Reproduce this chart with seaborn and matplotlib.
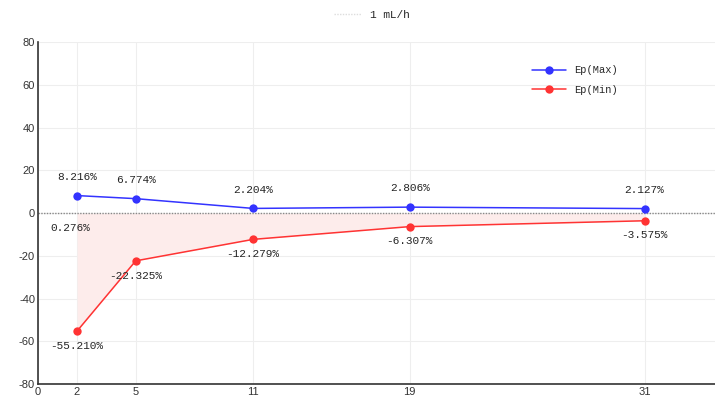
import matplotlib
matplotlib.use('Agg')
import matplotlib.pyplot as plt
from matplotlib.lines import Line2D
from matplotlib.ticker import MultipleLocator
import numpy as np
import pandas as pd
import seaborn as sns

x_vals = [2, 5, 11, 19, 31]
ep_max = [8.216, 6.774, 2.204, 2.806, 2.127]
ep_min = [-55.210, -22.325, -12.279, -6.307, -3.575]
max_labels = ['8.216%', '6.774%', '2.204%', '2.806%', '2.127%']
min_labels = ['-55.210%', '-22.325%', '-12.279%', '-6.307%', '-3.575%']
extra_label = '0.276%'
series_names = ['Ep(Max)', 'Ep(Min)']
title_text = '1 mL/h'

sns.set_style('white')
plt.rcParams['font.family'] = ['Liberation Sans', 'DejaVu Sans']
plt.rcParams['axes.unicode_minus'] = False
label_font = ['Liberation Mono', 'DejaVu Sans Mono']

df = pd.DataFrame({
    'x': x_vals * 2,
    'y': ep_max + ep_min,
    'series': [series_names[0]] * len(x_vals) + [series_names[1]] * len(x_vals),
})

fig = plt.figure(figsize=(7.15, 3.98), dpi=100)
ax = fig.add_axes([0.053, 0.035, 0.947, 0.859])

ax.fill_between(x_vals, 0, ep_min, color='#fdeceb', linewidth=0, zorder=1)
ax.axhline(0, color='#888888', linestyle=(0, (1, 1)), linewidth=1, zorder=2)

sns.lineplot(data=df, x='x', y='y', hue='series', palette=['#3333ff', '#ff3333'],
             marker='o', markersize=6, markeredgewidth=0, linewidth=1.1,
             ax=ax, zorder=3)

for x, y, t in zip(x_vals, ep_max, max_labels):
    ax.annotate(t, (x, y), xytext=(0, 10), textcoords='offset points',
                ha='center', va='bottom', fontsize=8, family=label_font)
for x, y, t in zip(x_vals, ep_min, min_labels):
    ax.annotate(t, (x, y), xytext=(0, -7), textcoords='offset points',
                ha='center', va='top', fontsize=8, family=label_font)
ax.annotate(extra_label, (x_vals[0], 0), xytext=(-5, -7), textcoords='offset points',
            ha='center', va='top', fontsize=8, family=label_font)

ax.set_xlim(0, 34.6)
ax.set_ylim(-80, 80)
ax.set_xticks([0] + x_vals)
ax.set_yticks(np.arange(-80, 81, 20))
ax.yaxis.set_minor_locator(MultipleLocator(5))
ax.tick_params(axis='both', direction='in', labelsize=8, color='#333333',
               labelcolor='#333333', length=5, width=1, pad=2)
ax.tick_params(axis='y', which='minor', direction='in', length=3, width=1, color='#333333')
ax.set_xlabel('')
ax.set_ylabel('')

ax.grid(True, which='major', color='#eeeeee', linewidth=0.8, zorder=0)
ax.set_axisbelow(True)
for s in ['top', 'right']:
    ax.spines[s].set_visible(False)
for s in ['left', 'bottom']:
    ax.spines[s].set_color('#333333')
    ax.spines[s].set_linewidth(1.2)

leg = ax.legend(loc='upper right', bbox_to_anchor=(0.87, 0.96), frameon=False,
                prop={'family': label_font, 'size': 7.5},
                handlelength=3.2, labelspacing=0.9)

title_handle = Line2D([0], [0], color='#dddddd', linestyle=(0, (1, 1)), linewidth=1)
fig.legend([title_handle], [title_text], loc='upper center', bbox_to_anchor=(0.52, 1.0),
           frameon=False, prop={'family': label_font, 'size': 8}, handlelength=2.5)

fig.savefig('out.png', dpi=100)
